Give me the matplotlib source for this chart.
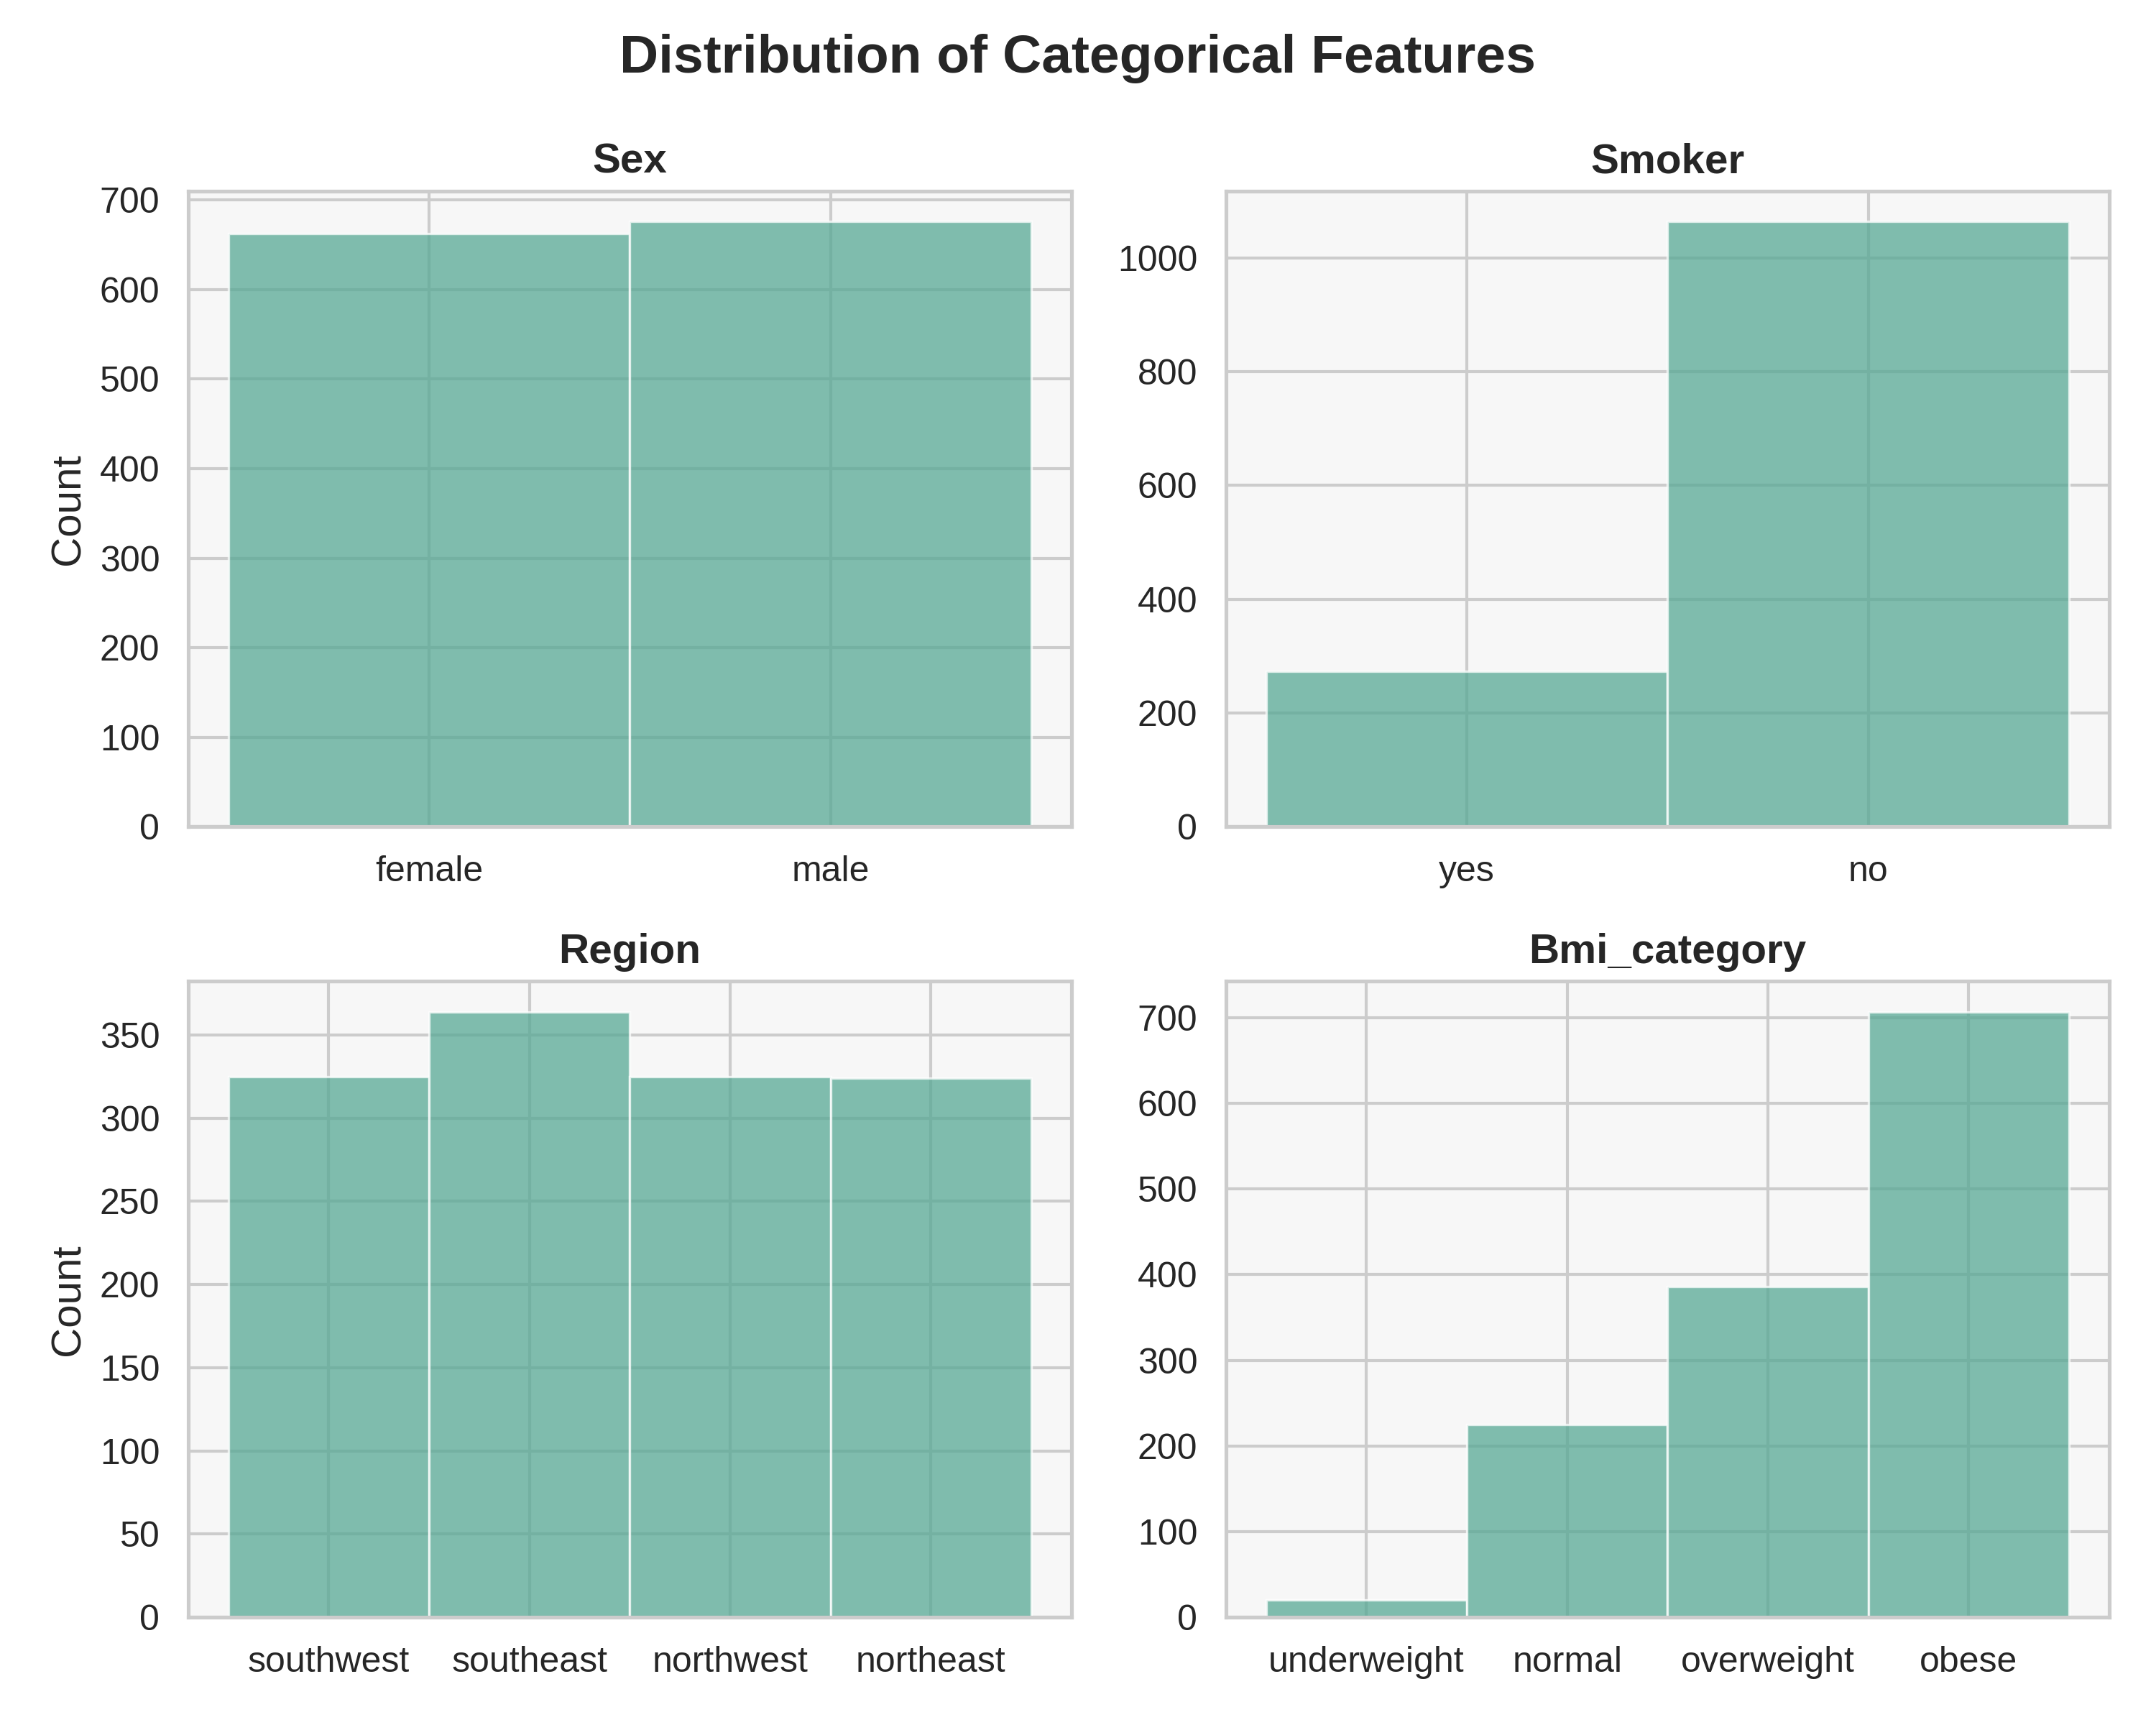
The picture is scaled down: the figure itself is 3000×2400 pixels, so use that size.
import matplotlib
matplotlib.use("Agg")
import matplotlib.pyplot as plt
import seaborn as sns

# counts per category
sex_labels = ["female", "male"]
sex_counts = [662, 676]

smoker_labels = ["yes", "no"]
smoker_counts = [274, 1064]

region_labels = ["southwest", "southeast", "northwest", "northeast"]
region_counts = [325, 364, 325, 324]

bmi_labels = ["underweight", "normal", "overweight", "obese"]
bmi_counts = [20, 225, 386, 707]

sns.set_theme(style="whitegrid", rc={
    "axes.facecolor": "#f7f7f7",
    "axes.edgecolor": "#cccccc",
    "grid.color": "#cccccc",
})
plt.rcParams['font.family'] = ['Liberation Sans', 'DejaVu Sans']

fig, axes = plt.subplots(2, 2, figsize=(10, 8), dpi=300)
plt.subplots_adjust(left=0.0873, right=0.9783, top=0.8892, bottom=0.0625,
                    wspace=0.175, hspace=0.243)

panels = [
    ("Sex", sex_labels, sex_counts),
    ("Smoker", smoker_labels, smoker_counts),
    ("Region", region_labels, region_counts),
    ("Bmi_category", bmi_labels, bmi_counts),
]

bar_color = "#57a894"

for i, (title, labels, counts) in enumerate(panels):
    ax = axes.flat[i]
    ax.bar(labels, counts, width=1.0, color=bar_color, alpha=0.75,
           edgecolor="white", linewidth=0.8)
    ax.set_title(title, fontsize=14, fontweight="bold")
    ax.tick_params(axis="both", labelsize=12)
    ax.set_xlabel("")
    if i % 2 == 0:
        ax.set_ylabel("Count", fontsize=14)
    else:
        ax.set_ylabel("")
    for s in ax.spines.values():
        s.set_visible(True)
        s.set_color("#cccccc")
        s.set_linewidth(1.25)

fig.suptitle("Distribution of Categorical Features", fontsize=18,
             fontweight="bold", y=0.9805)

plt.savefig("out.png", dpi=300)
